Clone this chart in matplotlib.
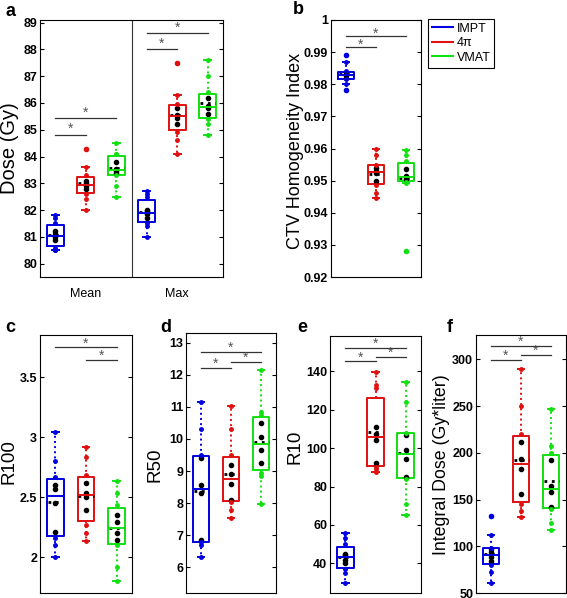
import numpy as np
import matplotlib
matplotlib.use('Agg')
import matplotlib.pyplot as plt
from matplotlib.lines import Line2D

plt.rcParams['font.family'] = ['Liberation Sans', 'DejaVu Sans']

groups = ['IMPT', '4\u03c0', 'VMAT']
colors = ['#0000e0', '#e01010', '#11e011']

# panel a: dose (Gy), mean and max
dose_mean = [
  [80.5, 80.5, 80.6, 80.9, 81.0, 81.1, 81.2, 81.5, 81.7, 81.8],
  [82.0, 82.4, 82.6, 82.8, 82.9, 83.0, 83.1, 83.3, 83.6, 84.3],
  [82.5, 82.9, 83.3, 83.4, 83.45, 83.55, 83.8, 84.1, 84.1, 84.5]]
dose_max = [
  [81.0, 81.4, 81.5, 81.7, 81.85, 81.95, 82.0, 82.5, 82.6, 82.7],
  [84.1, 84.6, 84.9, 85.2, 85.45, 85.55, 85.8, 85.95, 86.3, 87.5],
  [84.8, 85.2, 85.4, 85.6, 85.8, 85.9, 86.2, 86.4, 87.0, 87.6]]
# panel b: CTV homogeneity index
ctv_hi = [
  [0.9782, 0.980, 0.9815, 0.982, 0.983, 0.983, 0.9835, 0.984, 0.987, 0.989],
  [0.9445, 0.946, 0.9485, 0.950, 0.9525, 0.953, 0.954, 0.955, 0.958, 0.960],
  [0.928, 0.9494, 0.9496, 0.9505, 0.951, 0.9515, 0.9535, 0.956, 0.958, 0.9596]]
# panels c-f
r100 = [
  [2.0, 2.1, 2.16, 2.21, 2.45, 2.57, 2.6, 2.67, 2.8, 3.04],
  [2.13, 2.2, 2.27, 2.39, 2.5, 2.53, 2.62, 2.68, 2.83, 2.92],
  [1.8, 1.92, 2.1, 2.14, 2.2, 2.29, 2.35, 2.43, 2.53, 2.63]]
r50 = [
  [6.33, 6.7, 6.78, 6.85, 8.3, 8.55, 9.4, 9.5, 10.3, 11.15],
  [7.53, 7.8, 8.05, 8.1, 8.6, 8.9, 9.2, 9.5, 10.3, 11.04],
  [7.96, 8.85, 8.95, 9.25, 9.65, 10.05, 10.5, 10.75, 10.85, 12.15]]
r10 = [
  [30, 35, 37, 40, 42, 44.5, 45, 50, 53, 56],
  [87.5, 89, 90, 92, 104, 107.5, 111, 131, 133, 139.5],
  [65, 71, 84, 85, 94.5, 99, 107, 108, 124, 134.5]]
integral = [
  [60.7, 72, 80, 84, 88, 94, 97, 98, 112, 132.6],
  [131, 138, 145, 156, 183, 193, 212, 220, 250, 290],
  [117, 125, 140, 142, 158, 165, 192, 200, 207, 247]]


def draw_boxes(ax, sets, positions):
  for d, p, c in zip(sets, positions, colors):
    d = np.asarray(d)
    ax.boxplot([d], positions=[p], widths=0.55, capwidths=0.22,
               boxprops=dict(color=c, lw=1.4),
               medianprops=dict(color=c, lw=1.4),
               whiskerprops=dict(color=c, lw=1.4, ls=':'),
               capprops=dict(color=c, lw=1.4),
               flierprops=dict(marker='o', ms=3, mfc=c, mec=c))
    q1, q3 = np.percentile(d, [25, 75])
    inside = (d >= q1) & (d <= q3)
    ax.plot(np.full(inside.sum(), p), d[inside], 'o', color='k', ms=3)
    ax.plot(np.full((~inside).sum(), p), d[~inside], 'o', color=c, ms=2.5)
    ax.plot([p - 0.25, p + 0.25], [d.mean()] * 2, color='k', ls=':', lw=2)


def sig(ax, x1, x2, y, dy):
  ax.plot([x1, x2], [y, y], color='#333333', lw=0.9)
  ax.text((x1 + x2) / 2, y + dy, '*', ha='center', va='center',
          fontsize=10, color='#555555')


W, H = 567, 598
fig = plt.figure(figsize=(W / 100, H / 100), dpi=100)

def add_ax(l, r, t, b):
  return fig.add_axes([l / W, 1 - b / H, (r - l) / W, (b - t) / H])

def style(ax, ylabel, lx, ly, fs=13.5):
  ax.tick_params(axis='y', direction='in', right=True, length=3, pad=2)
  ax.tick_params(axis='x', length=0, labelsize=9, pad=8)
  for lab in ax.get_yticklabels():
    lab.set_fontweight('bold')
    lab.set_fontsize(9)
  for s in ax.spines.values():
    s.set_linewidth(0.8)
  fig.text(lx / W, 1 - ly / H, ylabel, rotation=90, ha='center', va='center',
           fontsize=fs)

# panel a
ax = add_ax(40, 223, 20, 277)
draw_boxes(ax, dose_mean, [1, 2, 3])
draw_boxes(ax, dose_max, [4, 5, 6])
ax.axvline(3.5, color='#333333', lw=0.8)
ax.set_xlim(0.5, 6.5)
ax.set_ylim(79.5, 89.1)
ax.set_yticks(np.arange(80, 90, 1))
ax.set_xticks([2, 5])
ax.set_xticklabels(['Mean', 'Max'])
sig(ax, 1, 2, 84.8, 0.22)
sig(ax, 1, 3, 85.43, 0.22)
sig(ax, 4, 5, 88.0, 0.22)
sig(ax, 4, 6, 88.6, 0.22)
style(ax, 'Dose (Gy)', 9.5, 148, 14.5)

# panel b
ax = add_ax(331, 421, 20, 277)
draw_boxes(ax, ctv_hi, [1, 2, 3])
ax.set_xlim(0.5, 3.5)
ax.set_ylim(0.92, 1.0)
ax.set_yticks(np.arange(0.92, 1.001, 0.01))
ax.set_yticklabels(['0.92', '0.93', '0.94', '0.95', '0.96', '0.97', '0.98', '0.99', '1'])
ax.set_xticks([])
sig(ax, 1, 2, 0.9917, 0.0007)
sig(ax, 1, 3, 0.9949, 0.0007)
style(ax, 'CTV Homogeneity Index', 296, 151, 13)

# panel c
ax = add_ax(40, 132, 335, 593)
draw_boxes(ax, r100, [1, 2, 3])
ax.set_xlim(0.5, 3.5)
ax.set_ylim(1.70, 3.85)
ax.set_yticks([2, 2.5, 3, 3.5])
ax.set_yticklabels(['2', '2.5', '3', '3.5'])
ax.set_xticks([])
sig(ax, 1, 3, 3.747, 0.03)
sig(ax, 2, 3, 3.645, 0.03)
style(ax, 'R100', 9, 462)

# panel d
ax = add_ax(186, 276, 333, 593)
draw_boxes(ax, r50, [1, 2, 3])
ax.set_xlim(0.5, 3.5)
ax.set_ylim(5.2, 13.3)
ax.set_yticks(np.arange(6, 14, 1))
ax.set_xticks([])
sig(ax, 1, 3, 12.72, 0.12)
sig(ax, 1, 2, 12.22, 0.12)
sig(ax, 2, 3, 12.41, 0.12)
style(ax, 'R50', 155, 465)

# panel e
ax = add_ax(330, 421, 336, 593)
draw_boxes(ax, r10, [1, 2, 3])
ax.set_xlim(0.5, 3.5)
ax.set_ylim(24.6, 158.3)
ax.set_yticks(np.arange(40, 141, 20))
ax.set_xticks([])
sig(ax, 1, 3, 152.1, 2.0)
sig(ax, 1, 2, 145.2, 2.0)
sig(ax, 2, 3, 147.5, 2.0)
style(ax, 'R10', 295, 447)

# panel f
ax = add_ax(476, 566, 335, 593)
draw_boxes(ax, integral, [1, 2, 3])
ax.set_xlim(0.5, 3.5)
ax.set_ylim(50, 326)
ax.set_yticks(np.arange(50, 301, 50))
ax.set_xticks([])
sig(ax, 1, 3, 314.2, 4.5)
sig(ax, 1, 2, 299.3, 4.5)
sig(ax, 2, 3, 304.6, 4.5)
style(ax, 'Integral Dose (Gy*liter)', 441, 465, 12.8)

# panel letters
for lt, x, y in [('a', 5, 12), ('b', 293, 10), ('c', 5, 327), ('d', 160, 327),
                 ('e', 297, 327), ('f', 447, 327)]:
  fig.text(x / W, 1 - y / H, lt, fontsize=13, fontweight='bold', va='center')

handles = [Line2D([], [], color=c, lw=1.5) for c in colors]
leg = fig.legend(handles, groups, loc='upper left',
                 bbox_to_anchor=(428 / W, 1 - 19 / H), borderaxespad=0,
                 fontsize=9, handlelength=1.7, handletextpad=0.3,
                 borderpad=0.3, labelspacing=0.2, fancybox=False,
                 framealpha=1)
leg.get_frame().set_edgecolor('k')
leg.get_frame().set_linewidth(0.8)

fig.savefig('out.png', dpi=100)
